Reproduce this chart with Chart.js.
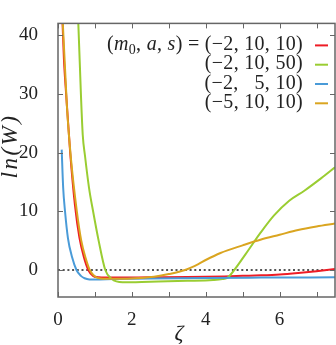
<!DOCTYPE html>
<html>
<head>
<meta charset="utf-8">
<script src="https://cdn.jsdelivr.net/npm/chart.js@4/dist/chart.umd.min.js"></script>
<style>
  html, body { margin: 0; padding: 0; background: #fff; }
  #wrap { width: 336px; height: 345px; }
</style>
</head>
<body>
<div id="wrap"><canvas id="chart" width="336" height="345"></canvas></div>
<script>
// values
const redX = [0.1, 0.16, 0.22, 0.33, 0.46, 0.58, 0.7, 0.82, 0.95, 1.1, 1.5, 2.5, 3.5, 4.5, 5.0, 5.5, 6.0, 6.5, 7.0, 7.5];
const redY = [46, 36, 30, 20, 11, 5.5, 2.2, 0, -1.0, -1.25, -1.3, -1.25, -1.2, -1.1, -1.0, -0.9, -0.75, -0.5, -0.2, 0.15];

const greenX = [0.5, 0.55, 0.62, 0.67, 0.73, 0.84, 0.95, 1.1, 1.28, 1.45, 1.75, 2.5, 3.5, 4.2, 4.45, 4.58, 4.66, 5.08, 5.49, 5.85, 6.26, 6.67, 7.12, 7.5];
const greenY = [48, 42, 30, 23, 19.5, 14, 10, 5, 0, -1.5, -2.1, -2.0, -1.85, -1.7, -1.55, -1.35, -0.9, 2.7, 6.4, 9.3, 11.8, 13.5, 15.6, 17.5];

const blueX = [0.1, 0.14, 0.19, 0.27, 0.38, 0.5, 0.62, 0.72, 0.85, 1.0, 1.5, 2.5, 4.0, 5.5, 7.5];
const blueY = [20.5, 14, 10, 5.4, 2.2, 0, -1.0, -1.4, -1.6, -1.62, -1.55, -1.45, -1.35, -1.3, -1.25];

const orangeX = [0.1, 0.13, 0.24, 0.35, 0.51, 0.63, 0.75, 0.86, 1.0, 1.15, 1.5, 1.8, 2.27, 2.6, 3.0, 3.44, 3.8, 4.0, 4.4, 5.0, 5.5, 6.0, 6.5, 7.0, 7.5];
const orangeY = [47, 42, 28, 19, 10, 5, 2, 0, -1.1, -1.45, -1.5, -1.5, -1.35, -1.15, -0.7, 0, 1.0, 1.7, 2.9, 4.2, 5.2, 6.0, 6.8, 7.4, 7.9];

const zeroX = [0, 7.5];
const zeroY = [0, 0];

const seriesLabels = ['(\u22122, 10, 10)', '(\u22122, 10, 50)', '(\u22122,   5, 10)', '(\u22125, 10, 10)'];
const xTicks = [0, 1, 2, 3, 4, 5, 6, 7];
const xTickLabels = [0, 2, 4, 6];
const yTicks = [0, 10, 20, 30, 40];

const colors = ['#ee1c25', '#9acd32', '#4a9bd8', '#daa520'];
const serif = '"Liberation Serif", "DejaVu Serif", serif';

const toPoints = (xs, ys) => xs.map((x, i) => ({ x: x, y: ys[i] }));

const curve = (label, xs, ys, color, order) => ({
  label: label,
  data: toPoints(xs, ys),
  borderColor: color,
  borderWidth: 2,
  pointRadius: 0,
  cubicInterpolationMode: 'monotone',
  order: order,
});

// gnuplot style frame with inward ticks
const framePlugin = {
  id: 'frame',
  afterDatasetsDraw(chart) {
    const { ctx, chartArea: a, scales } = chart;
    ctx.save();
    ctx.strokeStyle = '#666';
    ctx.lineWidth = 1.5;
    ctx.strokeRect(a.left, a.top, a.right - a.left, a.bottom - a.top);
    ctx.lineWidth = 1;
    ctx.beginPath();
    xTicks.forEach((v) => {
      const px = Math.round(scales.x.getPixelForValue(v)) + 0.5;
      ctx.moveTo(px, a.bottom); ctx.lineTo(px, a.bottom - 5);
      ctx.moveTo(px, a.top); ctx.lineTo(px, a.top + 5);
    });
    yTicks.forEach((v) => {
      const py = Math.round(scales.y.getPixelForValue(v)) + 0.5;
      ctx.moveTo(a.left, py); ctx.lineTo(a.left + 5, py);
      ctx.moveTo(a.right, py); ctx.lineTo(a.right - 5, py);
    });
    ctx.stroke();
    ctx.restore();
  },
  afterDraw(chart) {
    const { ctx, chartArea: a } = chart;
    ctx.save();
    ctx.fillStyle = '#222';
    ctx.textBaseline = 'alphabetic';
    ctx.letterSpacing = '0.3px';

    // legend, right aligned
    const right = 303;
    ctx.font = '20px ' + serif;
    seriesLabels.forEach((txt, i) => {
      const base = a.top + 26.5 + i * 19.3;
      ctx.textAlign = 'right';
      ctx.fillStyle = '#222';
      ctx.fillText(txt, right, base);
      ctx.strokeStyle = colors[i];
      ctx.lineWidth = 2;
      ctx.beginPath();
      ctx.moveTo(315, base - 4.5);
      ctx.lineTo(328, base - 4.5);
      ctx.stroke();
    });

    // header "(m0, a, s) = "
    const base0 = a.top + 26.5;
    ctx.textAlign = 'left';
    ctx.font = '20px ' + serif;
    let x = right - ctx.measureText(seriesLabels[0]).width;
    const parts = [
      [' = ', '20px ', 0],
      [')', '20px ', 0],
      ['s', 'italic 20px ', 0],
      [', ', '20px ', 0],
      ['a', 'italic 20px ', 0],
      [', ', '20px ', 0],
      ['0', '14px ', 4],
      ['m', 'italic 20px ', 0],
      ['(', '20px ', 0],
    ];
    parts.forEach(([t, f, dy]) => {
      ctx.font = f + serif;
      x -= ctx.measureText(t).width;
      ctx.fillText(t, x, base0 + dy);
    });

    // axis titles
    ctx.letterSpacing = '0px';
    ctx.font = 'italic 22px ' + serif;
    ctx.textAlign = 'center';
    ctx.textBaseline = 'middle';
    ctx.fillText('\u03b6', 179, 334);
    ctx.translate(11, 146);
    ctx.rotate(-Math.PI / 2);
    ctx.font = 'italic 23px ' + serif;
    ctx.letterSpacing = '2.5px';
    ctx.fillText('ln(W)', 0, 0);
    ctx.restore();
  }
};

new Chart(document.getElementById('chart'), {
  type: 'line',
  data: {
    datasets: [
      curve(seriesLabels[0], redX, redY, colors[0], 4),
      curve(seriesLabels[1], greenX, greenY, colors[1], 3),
      curve(seriesLabels[2], blueX, blueY, colors[2], 2),
      curve(seriesLabels[3], orangeX, orangeY, colors[3], 1),
      {
        label: 'zero',
        data: toPoints(zeroX, zeroY),
        borderColor: '#555',
        borderWidth: 2,
        borderDash: [2, 2.7],
        pointRadius: 0,
        order: 5,
      },
    ],
  },
  options: {
    responsive: false,
    animation: false,
    layout: { padding: { top: 2, right: 1, left: 0, bottom: 0 } },
    plugins: { legend: { display: false }, tooltip: { enabled: false } },
    scales: {
      x: {
        type: 'linear',
        min: 0,
        max: 7.5,
        grid: { display: false },
        border: { display: false },
        afterBuildTicks: (s) => { s.ticks = xTickLabels.map((v) => ({ value: v })); },
        afterFit: (s) => { s.height = 48; },
        ticks: { padding: 4, color: '#222', font: { family: serif, size: 19 }, maxRotation: 0 },
      },
      y: {
        type: 'linear',
        min: -4.6,
        max: 42,
        grid: { display: false },
        border: { display: false },
        afterBuildTicks: (s) => { s.ticks = yTicks.map((v) => ({ value: v })); },
        afterFit: (s) => { s.width = 58; },
        ticks: { padding: 12, color: '#222', font: { family: serif, size: 19 } },
      },
    },
  },
  plugins: [framePlugin],
});
</script>
</body>
</html>
